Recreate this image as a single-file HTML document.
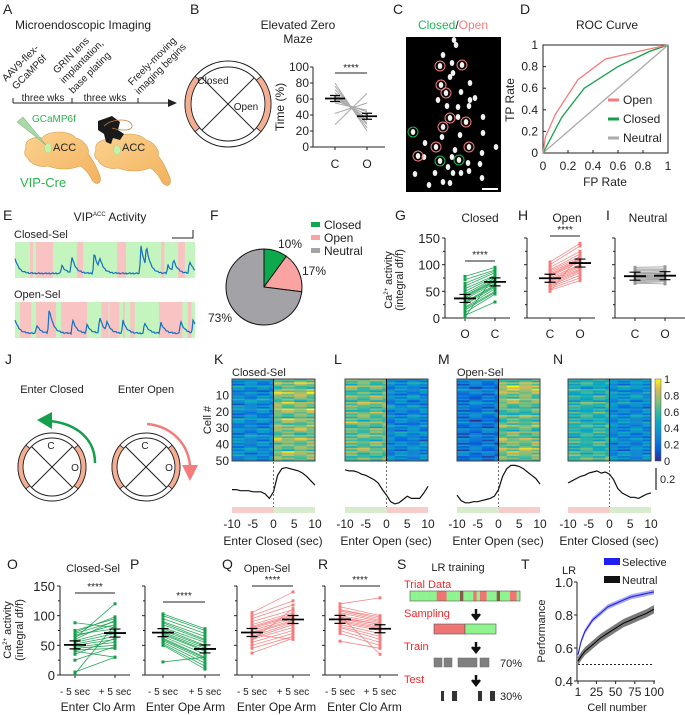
<!DOCTYPE html>
<html><head><meta charset="utf-8">
<style>
html,body{margin:0;padding:0;background:#fff;}
svg{display:block;font-family:"Liberation Sans",Arial,sans-serif;}
text{fill:#222;}
</style></head>
<body>
<svg id="fig" width="685" height="715" viewBox="0 0 685 715" xmlns="http://www.w3.org/2000/svg">
<rect width="685" height="715" fill="#fff"/>
<g font-size="14">
<text x="3" y="14">A</text>
<text x="190" y="14">B</text>
<text x="393" y="14">C</text>
<text x="520" y="14">D</text>
<text x="3" y="220">E</text>
<text x="210" y="220">F</text>
<text x="395" y="220">G</text>
<text x="518" y="220">H</text>
<text x="606" y="220">I</text>
<text x="5" y="364">J</text>
<text x="214" y="364">K</text>
<text x="334" y="364">L</text>
<text x="438" y="364">M</text>
<text x="553" y="364">N</text>
<text x="7" y="569">O</text>
<text x="130" y="569">P</text>
<text x="222" y="569">Q</text>
<text x="318" y="569">R</text>
<text x="397" y="569">S</text>
<text x="521" y="569">T</text>
</g>

<g id="panelA" font-size="10">
<text x="15" y="29" font-size="12">Microendoscopic Imaging</text>
<text transform="translate(6,82) rotate(-45)">AAV9-flex-</text>
<text transform="translate(16,90) rotate(-45)">GCaMP6f</text>
<text transform="translate(57,74) rotate(-45)">GRIN lens</text>
<text transform="translate(64,84) rotate(-45)">implantation,</text>
<text transform="translate(73,94) rotate(-45)">base plating</text>
<text transform="translate(132,86) rotate(-45)">Freely-moving</text>
<text transform="translate(139,95) rotate(-45)">imaging begins</text>
<line x1="13" y1="103" x2="170" y2="103" stroke="#222" stroke-width="1"/>
<polygon points="177,103 168,99 168,107" fill="#222"/>
<line x1="13" y1="98" x2="13" y2="103" stroke="#222"/>
<line x1="72" y1="98" x2="72" y2="103" stroke="#222"/>
<line x1="138" y1="98" x2="138" y2="103" stroke="#222"/>
<text x="43" y="101" text-anchor="middle">three wks</text>
<text x="105" y="101" text-anchor="middle">three wks</text>
<defs><linearGradient id="brainG" x1="0" y1="0" x2="1" y2="1"><stop offset="0" stop-color="#fbd28f"/><stop offset="1" stop-color="#f3b25e"/></linearGradient></defs>
<path d="M26,148 C24,140 34,136 42,138 C48,130 70,130 76,138 C84,140 90,148 88,154 C92,158 96,166 100,176 C102,184 96,186 92,180 C88,172 84,168 80,166 C70,170 58,170 48,166 C40,168 30,164 28,158 C24,156 24,152 26,148 Z" fill="url(#brainG)" stroke="#d49a4a" stroke-width="0.6"/>
<path d="M96,150 C94,142 104,138 112,140 C118,132 140,132 146,140 C154,142 160,150 158,156 C162,160 166,168 170,178 C172,186 166,188 162,182 C158,174 154,170 150,168 C140,172 128,172 118,168 C110,170 100,166 98,160 C94,158 94,154 96,150 Z" fill="url(#brainG)" stroke="#d49a4a" stroke-width="0.6"/>
<ellipse cx="48" cy="148" rx="3.5" ry="5" fill="#c9f0a8" stroke="#9bd48a" stroke-width="0.5"/>
<ellipse cx="117" cy="150" rx="3.5" ry="5" fill="#c9f0a8" stroke="#9bd48a" stroke-width="0.5"/>
<text x="53" y="151" font-size="11">ACC</text>
<text x="122" y="151" font-size="11">ACC</text>
<polygon points="17,122 23,117 46,145" fill="#a9d9a9" stroke="#6aa86a" stroke-width="0.5"/>
<text x="32" y="122" font-size="10" style="fill:#2bb24c">GCaMP6f</text>
<path d="M98,121 L112,116 L120,122 L118,130 L124,134 L120,140 L113,138 L111,144 L106,142 L104,134 L98,130 Z" fill="#1a1a1a"/>
<path d="M104,126 C112,118 132,118 132,126 C132,132 118,130 112,128" fill="none" stroke="#c77b3a" stroke-width="0.8"/>
<text x="20" y="187" font-size="13" style="fill:#2bb24c">VIP-Cre</text>
</g>

<g font-size="12">
<text x="298" y="29" text-anchor="middle">Elevated Zero</text>
<text x="298" y="43" text-anchor="middle">Maze</text>
<g id="mazeB"></g>
<text x="213" y="84" text-anchor="middle" font-size="10">Closed</text>
<text x="246" y="110" text-anchor="middle" font-size="10">Open</text>
<g id="plotB"></g>
</g>

<g>
<text x="453" y="29" text-anchor="middle" font-size="12"><tspan style="fill:#1db954">Closed</tspan><tspan>/</tspan><tspan style="fill:#f47c7c">Open</tspan></text>
<rect x="406" y="37" width="95" height="155" fill="#000"/>
<g id="cellsC"></g>
<line x1="482" y1="189" x2="498" y2="189" stroke="#fff" stroke-width="2"/>
</g>

<g id="plotD" font-size="11">
<text x="607" y="29" text-anchor="middle" font-size="12">ROC Curve</text>
</g>

<g id="panelE" font-size="11">
<text x="110" y="221" text-anchor="middle" font-size="12">VIP<tspan font-size="6" dy="-5">ACC</tspan><tspan dy="5"> Activity</tspan></text>
<text x="14" y="238" font-size="11">Closed-Sel</text>
<text x="14" y="298" font-size="11">Open-Sel</text>
<path d="M172,238 L193,238 L193,230" fill="none" stroke="#222"/>
</g>

<g id="panelF" font-size="11"></g>

<g id="panelGHI" font-size="11">
<text x="480" y="222" text-anchor="middle" font-size="12">Closed</text>
<text x="567" y="222" text-anchor="middle" font-size="12">Open</text>
<text x="648" y="222" text-anchor="middle" font-size="12">Neutral</text>
<text transform="translate(392,280) rotate(-90)" text-anchor="middle" font-size="11">Ca<tspan font-size="6" dy="-4">2+</tspan><tspan dy="4"> activity</tspan></text>
<text transform="translate(403,280) rotate(-90)" text-anchor="middle" font-size="11">(integral df/f)</text>
</g>

<g font-size="11">
<text x="52" y="393" text-anchor="middle">Enter Closed</text>
<text x="146" y="393" text-anchor="middle">Enter Open</text>
<g id="mazeJ1"></g>
<g id="mazeJ2"></g>
<text x="51" y="449" text-anchor="middle" font-size="10">C</text>
<text x="75" y="471" text-anchor="middle" font-size="10">O</text>
<text x="145" y="449" text-anchor="middle" font-size="10">C</text>
<text x="169" y="471" text-anchor="middle" font-size="10">O</text>
<path d="M95,463 C95,440 78,424 50,421" fill="none" stroke="#12a04a" stroke-width="2.5"/>
<polygon points="37,420 52,412 52,429" fill="#12a04a"/>
<path d="M147,424 C170,426 188,442 190,466" fill="none" stroke="#f47c7c" stroke-width="2.5"/>
<polygon points="190,481 182,465 198,465" fill="#f47c7c"/>
</g>

<g id="panelKN" font-size="11">
<text x="232" y="376" font-size="11">Closed-Sel</text>
<text x="457" y="376" font-size="11">Open-Sel</text>
<text transform="translate(211,420) rotate(-90)" text-anchor="middle">Cell #</text>
</g>

<g id="panelOR" font-size="11">
<text x="93" y="572" text-anchor="middle" font-size="11">Closed-Sel</text>
<text x="267" y="572" text-anchor="middle" font-size="11">Open-Sel</text>
<text transform="translate(11,630) rotate(-90)" text-anchor="middle">Ca<tspan font-size="6" dy="-4">2+</tspan><tspan dy="4"> activity</tspan></text>
<text transform="translate(23,630) rotate(-90)" text-anchor="middle">(integral df/f)</text>
</g>

<g font-size="11">
<text x="458" y="571" text-anchor="middle" font-size="11">LR training</text>
<text x="404" y="588" style="fill:#ee2b2b" font-size="11">Trial Data</text>
<g id="trialBar"></g>
<text x="404" y="617" style="fill:#ee2b2b">Sampling</text>
<path d="M476,609 L476,615 M472,614 L476,619 L480,614" stroke="#111" stroke-width="2.5" fill="#111"/>
<rect x="434" y="624" width="31" height="10" fill="#ef7474" stroke="#555" stroke-width="0.6"/>
<rect x="465" y="624" width="31" height="10" fill="#8ef58e" stroke="#555" stroke-width="0.6"/>
<text x="404" y="650" style="fill:#ee2b2b">Train</text>
<path d="M476,642 L476,648 M472,647 L476,652 L480,647" stroke="#111" stroke-width="2.5" fill="#111"/>
<rect x="434" y="658" width="8" height="9" fill="#808080" stroke="#666" stroke-width="0.5"/>
<rect x="444" y="658" width="8" height="9" fill="#808080" stroke="#666" stroke-width="0.5"/>
<rect x="458" y="658" width="19" height="9" fill="#808080" stroke="#666" stroke-width="0.5"/>
<rect x="480" y="658" width="9" height="9" fill="#808080" stroke="#666" stroke-width="0.5"/>
<text x="500" y="667">70%</text>
<text x="404" y="683" style="fill:#ee2b2b">Test</text>
<path d="M476,675 L476,681 M472,680 L476,685 L480,680" stroke="#111" stroke-width="2.5" fill="#111"/>
<rect x="441" y="691" width="3" height="10" fill="#333"/>
<rect x="452" y="691" width="5" height="10" fill="#333"/>
<rect x="478" y="691" width="4" height="10" fill="#333"/>
<rect x="490" y="691" width="5" height="10" fill="#333"/>
<text x="500" y="700">30%</text>
</g>

<g id="panelT" font-size="11">
<text x="562" y="574" font-size="11">LR</text>
<rect x="604" y="558" width="16" height="7" fill="#2020ee"/>
<text x="622" y="566">Selective</text>
<rect x="604" y="576" width="16" height="7" fill="#111"/>
<text x="622" y="584">Neutral</text>
<text transform="translate(545,631) rotate(-90)" text-anchor="middle">Performance</text>
<text x="617" y="711" text-anchor="middle">Cell number</text>
</g>
</svg>

<script>
// ===== Data =====
var bCond = ['C','O'];
var bC = [80,76,72,68,65,63,60,58,55,42,28];
var bO = [20,24,28,30,33,36,40,44,46,55,67];

var rocFP_open = [0,0.02,0.1,0.28,0.5,0.8,1];
var rocTP_open = [0,0.15,0.36,0.68,0.87,0.95,1];
var rocFP_closed = [0,0.15,0.33,0.6,0.85,1];
var rocTP_closed = [0,0.33,0.6,0.8,0.94,1];
var rocTicks = [0,0.2,0.4,0.6,0.8,1];

var closedBgRed = [[8.3,10],[11.7,21.1],[34.4,37.8],[56.7,61.7],[81.1,83],[90.6,94.4]];
var openBgRed = [[2.8,9],[11.7,22.8],[25.6,40],[48,52],[52.5,58],[60,61],[64,66.5],[80,93],[96,98]];
var closedPeakPos = [0,26,31.5,44,47,70,73,85,88,97];
var closedPeakAmp = [0.55,0.3,0.6,0.75,0.4,1.0,0.75,0.3,0.45,0.45];
var openPeakPos = [0,12,19,32,40,47,51,60,72,81,92,99];
var openPeakAmp = [0.5,0.3,0.9,0.5,0.3,0.6,0.35,0.45,0.4,0.4,0.45,0.5];

var pieLabels = ['Closed','Open','Neutral'];
var pieValues = [10,17,73];

var gO = [78,72,65,60,55,50,45,42,40,38,35,30,28,25,20,18,15,10,5,2];
var gC = [95,90,88,85,80,78,75,72,70,68,65,62,60,58,55,50,48,45,30,80];
var hC = [105,100,95,90,88,85,82,80,78,75,72,70,68,65,62,60,58,55,52,50];
var hO = [140,135,125,120,115,112,110,108,105,100,98,95,92,90,88,85,80,75,70,118];
var iC = [95,92,90,88,85,82,80,78,76,75,74,72,70,68,66,65,80,78,84,70];
var iO = [96,92,90,88,86,84,82,80,78,76,75,74,72,70,68,64,79,77,83,73];
var caTicks = [0,50,100,150];

var traceK = [.14,.14,.13,.13,.13,.12,.12,.12,.10,.06,.12,.27,.33,.34,.33,.32,.31,.29,.26,.22,.18];
var traceL = [.32,.31,.31,.30,.28,.27,.25,.23,.20,.14,.09,.03,.01,.02,.05,.08,.06,.06,.06,.11,.17];
var traceM = [.09,.04,.02,.02,.03,.03,.04,.05,.06,.08,.14,.26,.33,.36,.36,.35,.33,.30,.27,.24,.19];
var traceN = [.20,.22,.24,.26,.27,.29,.30,.31,.29,.30,.28,.23,.15,.11,.09,.07,.07,.06,.08,.10,.11];
var heatPreK  = [.35,.30,.40,.25,.35,.30,.45,.28,.33,.38,.25,.30,.42,.28,.32,.36,.26,.40,.30,.34,.28,.38,.30,.35,.32];
var heatPostK = [.65,.80,.60,.75,.82,.70,.62,.78,.68,.85,.72,.60,.80,.66,.74,.78,.62,.70,.82,.68,.75,.64,.80,.72,.66];
var heatPreL  = [.70,.62,.74,.58,.66,.72,.60,.76,.64,.58,.72,.66,.62,.75,.60,.68,.64,.72,.58,.70,.62,.74,.66,.60,.68];
var heatPostL = [.30,.40,.28,.35,.25,.38,.30,.26,.42,.32,.28,.36,.30,.25,.34,.28,.38,.30,.26,.32,.36,.28,.30,.34,.28];
var heatPreM  = [.30,.25,.20,.35,.28,.18,.25,.30,.22,.20,.32,.25,.18,.28,.22,.30,.20,.26,.24,.18,.28,.22,.30,.20,.25];
var heatPostM = [.60,.75,.85,.80,.72,.65,.78,.70,.62,.68,.55,.72,.60,.66,.75,.58,.70,.64,.78,.72,.68,.80,.74,.70,.62];
var heatPreN  = [.48,.55,.42,.58,.50,.56,.46,.62,.52,.48,.58,.54,.50,.56,.62,.52,.58,.50,.54,.60,.52,.56,.58,.62,.66];
var heatPostN = [.38,.32,.42,.28,.36,.40,.32,.38,.28,.34,.32,.38,.30,.36,.28,.34,.32,.28,.36,.30,.33,.28,.32,.34,.30];
var colJitter = [0.06,-0.10,0.12,-0.04,0.02,-0.12,0.08,-0.06,0.10,-0.02,0.04,-0.08,0.11,-0.05,0.0,0.07,-0.11,0.05,-0.03,0.09];
var cellTicks = [10,20,30,40,50];
var timeTicks = [-10,-5,0,5,10];
var cbarTicks = [0,0.2,0.4,0.6,0.8,1];

var oPre = [88,75,72,70,65,62,58,55,52,50,47,45,42,40,25,5,2,60,68,35];
var oPost = [80,95,98,90,85,120,75,70,65,60,55,50,45,30,48,30,85,92,78,62];
var pPre = [103,100,95,90,88,85,80,78,75,72,70,68,65,62,60,58,55,52,50,22];
var pPost = [78,75,70,65,60,58,55,50,48,45,42,40,35,30,28,25,20,15,10,30];
var qPre = [105,100,95,90,85,80,78,75,72,70,65,62,60,55,50,45,37,68,58,82];
var qPost = [140,125,118,110,105,100,98,95,92,90,88,85,80,75,70,65,62,60,112,102];
var rPre = [120,115,110,108,105,100,98,95,92,90,88,85,82,80,75,70,57,100,110,95];
var rPost = [130,100,95,92,90,88,85,82,80,78,75,70,65,60,55,50,45,35,98,86];

var trialSegs = ['g','g','g','g','g','g','g','g','r','r','r','g','g','g','g','d','g','g','g','r','g','r','r','g','g','g','d','g','g','g','r','r','g'];

var tCells = [1,5,10,20,30,40,50,60,70,80,90,100];
var tSelective = [.56,.64,.70,.77,.81,.85,.87,.89,.91,.92,.93,.94];
var tNeutral = [.52,.55,.58,.62,.66,.69,.72,.75,.77,.79,.81,.835];
var tYTicks = [0.4,0.6,0.8,1.0];
var tXTicks = [1,25,50,75,100];

var NS = 'http://www.w3.org/2000/svg';
function mk(tag, attrs, parent){
  var e = document.createElementNS(NS, tag);
  for (var k in attrs) e.setAttribute(k, attrs[k]);
  parent.appendChild(e);
  return e;
}
function txt(str, x, y, anchor, parent, size){
  var t = mk('text', {x:x, y:y, 'text-anchor':anchor||'start'}, parent);
  if (size) t.setAttribute('font-size', size);
  t.textContent = str;
  return t;
}
function $(id){ return document.getElementById(id); }

function drawMaze(g, cx, cy, ro, ri){
  var c1 = mk('circle', {cx:cx, cy:cy, r:ro, fill:'#fff', stroke:'#222', 'stroke-width':1}, g);
  
  
  var c2 = mk('circle', {cx:cx, cy:cy, r:ri, fill:'none', stroke:'#222', 'stroke-width':1}, g);
  
  
  [[-40,40],[140,220]].forEach(function(a){
    var a0=a[0]*Math.PI/180, a1=a[1]*Math.PI/180;
    var d = 'M'+(cx+ro*Math.cos(a0))+','+(cy+ro*Math.sin(a0))+' A'+ro+','+ro+' 0 0 1 '+(cx+ro*Math.cos(a1))+','+(cy+ro*Math.sin(a1))+
      ' L'+(cx+ri*Math.cos(a1))+','+(cy+ri*Math.sin(a1))+' A'+ri+','+ri+' 0 0 0 '+(cx+ri*Math.cos(a0))+','+(cy+ri*Math.sin(a0))+' Z';
    var p = mk('path', {d:d, fill:'#f4ae94', stroke:'#222', 'stroke-width':0.8}, g);
    
    
  });
  [45,135].forEach(function(deg){
    var a=deg*Math.PI/180;
    var l = mk('line', {x1:cx+ri*Math.cos(a), y1:cy+ri*Math.sin(a), x2:cx-ri*Math.cos(a), y2:cy-ri*Math.sin(a), stroke:'#222', 'stroke-width':1}, g);
    
    
  });
}
drawMaze($('mazeB'), 228, 104, 43, 37);
drawMaze($('mazeJ1'), 52, 467, 34, 29);
drawMaze($('mazeJ2'), 146, 467, 34, 29);

function meanMark(g, x, y, sem, w){
  var a = mk('line', {x1:x-w, y1:y, x2:x+w, y2:y, stroke:'#000', 'stroke-width':1.8}, g);
  
  
  var b = mk('path', {d:'M'+x+','+(y-sem)+' L'+x+','+(y+sem)+' M'+(x-w*0.5)+','+(y-sem)+' L'+(x+w*0.5)+','+(y-sem)+' M'+(x-w*0.5)+','+(y+sem)+' L'+(x+w*0.5)+','+(y+sem), stroke:'#000', 'stroke-width':1.2, fill:'none'}, g);
  
  
}
function mean(a){ var s=0; a.forEach(function(v){s+=v;}); return s/a.length; }

(function(){
  var g = $('plotB');
  var ax=313, y0=147, y1=67;
  function ys(v){ return y0 - (v/100)*(y0-y1); }
  var xs = {C:335, O:367};
  var a = mk('line', {x1:ax, y1:y0, x2:ax, y2:y1, stroke:'#222'}, g);
  
  
  var xa = mk('line', {x1:ax, y1:y0, x2:385, y2:y0, stroke:'#222'}, g);
  
  
  [0,20,40,60,80,100].forEach(function(v){
    var t = mk('line', {x1:ax-3, y1:ys(v), x2:ax, y2:ys(v), stroke:'#222'}, g);
    
    
    var l = txt(String(v), ax-4, ys(v)+4, 'end', g, 12);
    
    
  });
  bCond.forEach(function(c){
    var l = txt(c, xs[c], 168, 'middle', g, 12);
    
    
    var t = mk('line', {x1:xs[c], y1:y0, x2:xs[c], y2:y0+3, stroke:'#222'}, g);
    
    
  });
  for (var i=0;i<bC.length;i++){
    var p = mk('line', {x1:xs.C, y1:ys(bC[i]), x2:xs.O, y2:ys(bO[i]), stroke:'#aaa', 'stroke-width':1}, g);
    
    
  }
  meanMark(g, xs.C, ys(mean(bC)), 3, 10);
  meanMark(g, xs.O, ys(mean(bO)), 3, 10);
  var yl = mk('text', {transform:'translate(284,107) rotate(-90)', 'text-anchor':'middle', 'font-size':12}, g);
  yl.textContent = 'Time (%)';
  
  
  var sb = mk('line', {x1:xs.C, y1:73, x2:xs.O, y2:73, stroke:'#222'}, g);
  
  
  var st = txt('****', 351, 71, 'middle', g, 10);
  
  
})();

var blobs = [[454,40],[443,55],[452,63],[453,73],[450,77],[461,92],[475,98],[469,106],[447,106],[458,107],[458,117],[483,117],[442,137],[460,135],[483,133],[425,143],[455,150],[482,153],[496,147],[452,157],[468,163],[480,164],[448,167],[461,173],[453,173],[469,171],[415,174],[435,173],[450,183],[429,185],[443,182],[482,178],[424,157],[470,100],[440,66],[462,65],[441,85],[446,93],[450,118],[466,122],[443,127],[436,147],[469,147],[418,156],[413,132],[440,161],[459,160],[456,45],[470,83],[438,100]];
var redCells = [[440,66],[462,65],[441,85],[446,93],[450,118],[466,122],[443,127],[436,147],[469,147],[418,156]];
var greenCells = [[413,132],[440,161],[459,160]];
(function(){
  var g = $('cellsC');
  blobs.forEach(function(b){
    var e = mk('ellipse', {cx:b[0], cy:b[1], rx:2.3, ry:3, fill:'#f2f2f2'}, g);
    
    
  });
  redCells.forEach(function(b){
    var e = mk('circle', {cx:b[0], cy:b[1], r:5, fill:'none', stroke:'#f47c7c', 'stroke-width':1}, g);
    
    
  });
  greenCells.forEach(function(b){
    var e = mk('circle', {cx:b[0], cy:b[1], r:5, fill:'none', stroke:'#1db954', 'stroke-width':1}, g);
    
    
  });
})();

(function(){
  var g = $('plotD');
  var x0=543, x1=668, y0=153, y1=45;
  function xs(v){ return x0+v*(x1-x0); }
  function ys(v){ return y0-v*(y0-y1); }
  var box = mk('rect', {x:x0, y:y1, width:x1-x0, height:y0-y1, fill:'none', stroke:'#222', 'stroke-width':1}, g);
  
  
  rocTicks.forEach(function(v){
    var a = txt(String(v), xs(v), 170, 'middle', g, 12);
    
    
    var b = txt(String(v), x0-5, ys(v)+4, 'end', g, 12);
    
    
    var t1 = mk('line', {x1:xs(v), y1:y0, x2:xs(v), y2:y0-3, stroke:'#222'}, g);
    
    
    var t2 = mk('line', {x1:x0, y1:ys(v), x2:x0+3, y2:ys(v), stroke:'#222'}, g);
    
    
  });
  function line(fx, ty, col, name){
    var d = fx.map(function(v,i){ return (i?'L':'M')+xs(v)+','+ys(ty[i]); }).join(' ');
    var p = mk('path', {d:d, fill:'none', stroke:col, 'stroke-width':1.3}, g);
    
    
  }
  line([0,1],[0,1],'#aaa','roc-neutral-line');
  line(rocFP_closed, rocTP_closed, '#12a04a', 'roc-closed-line');
  line(rocFP_open, rocTP_open, '#f47c7c', 'roc-open-line');
  var leg = [['Open','#f47c7c',104],['Closed','#12a04a',123],['Neutral','#aaa',142]];
  leg.forEach(function(l){
    var s = mk('line', {x1:608, y1:l[2]-4, x2:619, y2:l[2]-4, stroke:l[1], 'stroke-width':3}, g);
    
    
    var t = txt(l[0], 623, l[2], 'start', g, 12);
    
    
  });
  var xt = txt('FP Rate', 605, 186, 'middle', g, 12);
  
  
  var yt = mk('text', {transform:'translate(514,100) rotate(-90)', 'text-anchor':'middle', 'font-size':12}, g);
  yt.textContent = 'TP Rate';
  
  
})();

function drawTrace(g, x0, y0, w, h, reds, pos, amp, name){
  var bg = mk('rect', {x:x0, y:y0, width:w, height:h, fill:'#c4f5be'}, g);
  
  
  reds.forEach(function(r){
    var e = mk('rect', {x:x0+r[0]/100*w, y:y0, width:(r[1]-r[0])/100*w, height:h, fill:'#f9c3c3'}, g);
    
    
  });
  var pts=[];
  for (var i=0;i<=180;i++){
    var t=i/180*100, v=0;
    for (var k=0;k<pos.length;k++){
      var d=t-pos[k];
      if (d>=-0.8) v += amp[k]*Math.exp(-Math.max(d,0)/2.2)*(d<0?(1+d/0.8):1);
    }
    var n = ((i*37)%7)/7*0.05;
    pts.push((i?'L':'M')+(x0+i/180*w).toFixed(1)+','+(y0+h-4-(v+n)*(h-8)).toFixed(1));
  }
  var p = mk('path', {d:pts.join(' '), fill:'none', stroke:'#1570c0', 'stroke-width':1.2}, g);
  
  
}
drawTrace($('panelE'), 15, 242, 180, 36, closedBgRed, closedPeakPos, closedPeakAmp, 'closed-sel');
drawTrace($('panelE'), 15, 302, 180, 36, openBgRed, openPeakPos, openPeakAmp, 'open-sel');

(function(){
  var g = $('panelF');
  var cx=264, cy=287, r=38, cols=['#0ea84d','#f9a3a3','#a3a3a7'];
  var start=-Math.PI/2, total=0;
  pieValues.forEach(function(v){ total+=v; });
  pieValues.forEach(function(v,i){
    var a0=start, a1=start+v/total*2*Math.PI; start=a1;
    var large = (a1-a0)>Math.PI?1:0;
    var d='M'+cx+','+cy+' L'+(cx+r*Math.cos(a0))+','+(cy+r*Math.sin(a0))+' A'+r+','+r+' 0 '+large+' 1 '+(cx+r*Math.cos(a1))+','+(cy+r*Math.sin(a1))+' Z';
    var p = mk('path', {d:d, fill:cols[i], stroke:'#111', 'stroke-width':1}, g);
    
    
    var sw = mk('rect', {x:311, y:222+i*13, width:9, height:5, fill:cols[i]}, g);
    
    
    var lt = txt(pieLabels[i], 324, 229+i*13, 'start', g, 12);
    
    
  });
  var pl = [[pieValues[0]+'%',278,248],[pieValues[1]+'%',302,275],[pieValues[2]+'%',208,322]];
  pl.forEach(function(l){
    var t = txt(l[0], l[1], l[2], 'start', g, 12);
    
    
  });
})();

function pairPanel(g, o){
  function ys(v){ return o.y0 - v*o.k; }
  var ax = mk('line', {x1:o.ax, y1:o.y0, x2:o.ax, y2:ys(150), stroke:'#222'}, g);
  
  
  var xa = mk('line', {x1:o.ax, y1:o.y0, x2:o.xr, y2:o.y0, stroke:'#222'}, g);
  
  
  for (var v=0; v<=150; v+=25){
    var t = mk('line', {x1:o.ax-(v%50?2:3), y1:ys(v), x2:o.ax, y2:ys(v), stroke:'#222'}, g);
    
    
  }
  if (o.labels){
    caTicks.forEach(function(v){
      var l = txt(String(v), o.ax-5, ys(v)+5, 'end', g, 13);
      
      
    });
  }
  [o.xa, o.xb].forEach(function(x,i){
    var t = mk('line', {x1:x, y1:o.y0, x2:x, y2:o.y0+3, stroke:'#222'}, g);
    
    
    var l = txt(o.xl[i], x, o.ly, 'middle', g, o.lsize);
    
    
  });
  for (var i=0;i<o.a.length;i++){
    var p = mk('line', {x1:o.xa, y1:ys(o.a[i]), x2:o.xb, y2:ys(o.b[i]), stroke:o.col, 'stroke-width':0.8, opacity:0.9}, g);
    
    
    var s1 = mk('rect', {x:o.xa-1.5, y:ys(o.a[i])-1.5, width:3, height:3, fill:o.col}, g);
    
    
    var s2 = mk('rect', {x:o.xb-1.5, y:ys(o.b[i])-1.5, width:3, height:3, fill:o.col}, g);
    
    
  }
  meanMark(g, o.xa, ys(mean(o.a)), 4, 11);
  meanMark(g, o.xb, ys(mean(o.b)), 4, 11);
  if (o.sig){
    var sb = mk('line', {x1:o.xa, y1:o.sig, x2:o.xb, y2:o.sig, stroke:'#222'}, g);
    
    
    var st = txt('****', (o.xa+o.xb)/2, o.sig-3, 'middle', g, 10);
    
    
  }
  if (o.xt){
    var xt = txt(o.xt, (o.ax+o.xr)/2+3, o.xty, 'middle', g, 12);
    
    
  }
}
var gG = $('panelGHI');
pairPanel(gG, {name:'g', ax:445, xr:510, y0:318, k:80/150, xa:465, xb:495, a:gO, b:gC, col:'#12a04a', labels:true, xl:['O','C'], ly:338, lsize:12, sig:261});
pairPanel(gG, {name:'h', ax:527, xr:595, y0:318, k:80/150, xa:550, xb:580, a:hC, b:hO, col:'#f47c7c', labels:false, xl:['C','O'], ly:338, lsize:12, sig:236});
pairPanel(gG, {name:'i', ax:615, xr:685, y0:318, k:80/150, xa:635, xb:665, a:iC, b:iO, col:'#999', labels:false, xl:['C','O'], ly:338, lsize:12, sig:0});

var gO2 = $('panelOR');
var k2 = 89/150;
pairPanel(gO2, {name:'o', ax:60, xr:130, y0:675, k:k2, xa:75, xb:115, a:oPre, b:oPost, col:'#12a04a', labels:true, xl:['- 5 sec','+ 5 sec'], ly:695, lsize:10, sig:593, xt:'Enter Clo Arm', xty:711});
pairPanel(gO2, {name:'p', ax:145, xr:220, y0:675, k:k2, xa:163, xb:205, a:pPre, b:pPost, col:'#12a04a', labels:false, xl:['- 5 sec','+ 5 sec'], ly:695, lsize:10, sig:602, xt:'Enter Ope Arm', xty:711});
pairPanel(gO2, {name:'q', ax:237, xr:310, y0:675, k:k2, xa:252, xb:293, a:qPre, b:qPost, col:'#f47c7c', labels:false, xl:['- 5 sec','+ 5 sec'], ly:695, lsize:10, sig:586, xt:'Enter Ope Arm', xty:711});
pairPanel(gO2, {name:'r', ax:325, xr:398, y0:675, k:k2, xa:340, xb:380, a:rPre, b:rPost, col:'#f47c7c', labels:false, xl:['- 5 sec','+ 5 sec'], ly:695, lsize:10, sig:586, xt:'Enter Clo Arm', xty:711});

var parStops = [[0,[53,42,135]],[0.15,[3,99,225]],[0.3,[20,133,212]],[0.45,[6,167,198]],[0.6,[56,185,158]],[0.75,[146,191,115]],[0.88,[217,186,86]],[1,[249,251,14]]];
function parula(v){
  v=Math.max(0,Math.min(1,v));
  for (var i=1;i<parStops.length;i++){
    if (v<=parStops[i][0]){
      var a=parStops[i-1], b=parStops[i], f=(v-a[0])/(b[0]-a[0]);
      return 'rgb('+[0,1,2].map(function(j){return Math.round(a[1][j]+(b[1][j]-a[1][j])*f);}).join(',')+')';
    }
  }
  return 'rgb(249,251,14)';
}
function heatPanel(g, x0, pre, post, trace, firstColor, name, showY){
  var y0=379, h=82, w=83, split=x0+w/2, cols=10;
  var rowH = h/(pre.length*2);
  for (var r=0;r<pre.length*2;r++){
    var band = Math.floor(r/2);
    for (var c=0;c<cols*2;c++){
      var base = c<cols ? pre[band] : post[band];
      var jit = colJitter[(r*7 + Math.floor(c/3)) % colJitter.length];
      var v = base + jit*1.0 + ((r%2)? -0.06 : 0.05);
      var cell = mk('rect', {x:(x0+c*w/(cols*2)).toFixed(2), y:(y0+r*rowH).toFixed(2), width:(w/(cols*2)+0.3).toFixed(2), height:(rowH+0.3).toFixed(2), fill:parula(v)}, g);
      
      
    }
  }
  var fr = mk('rect', {x:x0, y:y0, width:w, height:h, fill:'none', stroke:'#444', 'stroke-width':1}, g);
  
  
  var vl = mk('line', {x1:split, y1:y0, x2:split, y2:y0+h, stroke:'#000', 'stroke-width':1}, g);
  
  
  if (showY){
    cellTicks.forEach(function(v){
      var l = txt(String(v), x0-3, y0 + v/50*h + 4, 'end', g, 12);
      
      
    });
  }
  function tx(t){ return x0 + (t+10)/20*w; }
  function ty(v){ return 505 - v*110; }
  var d = trace.map(function(v,i){ return (i?'L':'M')+tx(i-10).toFixed(1)+','+ty(v).toFixed(1); }).join(' ');
  var p = mk('path', {d:d, fill:'none', stroke:'#111', 'stroke-width':1.2}, g);
  
  
  var dl = mk('line', {x1:split, y1:462, x2:split, y2:513, stroke:'#333', 'stroke-dasharray':'2,2', 'stroke-width':0.7}, g);
  
  
  var pink='#f9cccc', green='#d6eccd';
  var b1 = mk('rect', {x:x0, y:507, width:w/2, height:6, fill:firstColor==='r'?pink:green}, g);
  
  
  var b2 = mk('rect', {x:split, y:507, width:w/2, height:6, fill:firstColor==='r'?green:pink}, g);
  
  
  timeTicks.forEach(function(t){
    var l = txt(String(t), tx(t), 528, 'middle', g, 12);
    
    
  });
}
var gK = $('panelKN');
heatPanel(gK, 232, heatPreK, heatPostK, traceK, 'r', 'k', true);
heatPanel(gK, 345, heatPreL, heatPostL, traceL, 'g', 'l', false);
heatPanel(gK, 457, heatPreM, heatPostM, traceM, 'g', 'm', false);
heatPanel(gK, 568, heatPreN, heatPostN, traceN, 'r', 'n', false);
[['Enter Closed (sec)',273],['Enter Open (sec)',386],['Enter Open (sec)',498],['Enter Closed (sec)',609]].forEach(function(l){
  var t = txt(l[0], l[1], 545, 'middle', gK, 12);
  
  
});
(function(){
  var defs = mk('defs', {}, gK);
  var lg = mk('linearGradient', {id:'parulaG', x1:0, y1:1, x2:0, y2:0}, defs);
  parStops.forEach(function(s){ mk('stop', {offset:s[0], 'stop-color':'rgb('+s[1].join(',')+')'}, lg); });
  var cb = mk('rect', {x:655, y:379, width:6, height:82, fill:'url(#parulaG)', stroke:'#555', 'stroke-width':0.5}, gK);
  
  
  cbarTicks.forEach(function(v){
    var l = txt(String(v), 664, 461 - v*82 + 4, 'start', gK, 11);
    
    
  });
  var sb = mk('line', {x1:656, y1:468, x2:656, y2:490, stroke:'#222', 'stroke-width':1.2}, gK);
  
  
  var st = txt('0.2', 660, 483, 'start', gK, 11);
  
  
})();

(function(){
  var g = $('trialBar');
  var x0=410, w=110, n=trialSegs.length, sw=w/n;
  trialSegs.forEach(function(s,i){
    var c = s==='g' ? '#8ef58e' : (s==='r' ? '#ef7474' : '#8a5a4a');
    var r = mk('rect', {x:(x0+i*sw).toFixed(2), y:591, width:(sw+0.2).toFixed(2), height:10, fill:c}, g);
    
    
  });
  var f = mk('rect', {x:x0, y:591, width:w, height:10, fill:'none', stroke:'#555', 'stroke-width':0.6}, g);
  
  
})();

(function(){
  var g = $('panelT');
  var ax=577, y0=681, y1=582, xl=578, xr=654;
  function xs(c){ return xl + (c-1)/99*(xr-xl); }
  function ys(v){ return y0 - (v-0.4)/0.6*(y0-y1); }
  var a = mk('line', {x1:ax, y1:y0, x2:ax, y2:y1, stroke:'#222'}, g);
  
  
  var b = mk('line', {x1:ax, y1:y0, x2:xr+1, y2:y0, stroke:'#222'}, g);
  
  
  tYTicks.forEach(function(v){
    var t = mk('line', {x1:ax-3, y1:ys(v), x2:ax, y2:ys(v), stroke:'#222'}, g);
    
    
    var l = txt(v.toFixed(1), ax-4, ys(v)+5, 'end', g, 13);
    
    
  });
  tXTicks.forEach(function(c){
    var t = mk('line', {x1:xs(c), y1:y0, x2:xs(c), y2:y0+3, stroke:'#222'}, g);
    
    
    var l = txt(String(c), xs(c), 696, 'middle', g, 12);
    
    
  });
  var dl = mk('line', {x1:xl, y1:ys(0.5), x2:xr, y2:ys(0.5), stroke:'#222', 'stroke-dasharray':'2,2'}, g);
  
  
  function band(vals, e, fill, name){
    var up = vals.map(function(v,i){ return xs(tCells[i]).toFixed(1)+','+ys(v+e).toFixed(1); });
    var dn = vals.map(function(v,i){ return xs(tCells[i]).toFixed(1)+','+ys(v-e).toFixed(1); }).reverse();
    var p = mk('polygon', {points:up.concat(dn).join(' '), fill:fill}, g);
    
    
  }
  function line(vals, col, name){
    var d = vals.map(function(v,i){ return (i?'L':'M')+xs(tCells[i]).toFixed(1)+','+ys(v).toFixed(1); }).join(' ');
    var p = mk('path', {d:d, fill:'none', stroke:col, 'stroke-width':1}, g);
    
    
  }
  band(tNeutral, 0.025, '#7a7a7a', 'neutral-error-band');
  band(tSelective, 0.015, '#a8a8f0', 'selective-error-band');
  line(tNeutral, '#000', 'neutral-performance-line');
  line(tSelective, '#1818ee', 'selective-performance-line');
})();
</script>
</body></html>
